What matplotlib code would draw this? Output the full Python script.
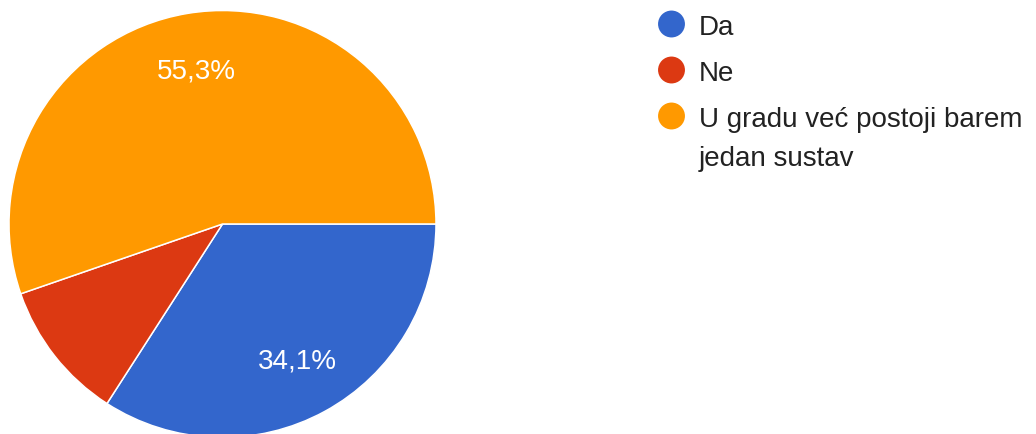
import textwrap
import math
import matplotlib
matplotlib.use("Agg")
import matplotlib.pyplot as plt

categories = ["Da", "Ne", "U gradu već postoji barem jedan sustav"]
values = [34.1, 10.6, 55.3]
colors = ["#3366CC", "#DC3912", "#FF9900"]

plt.rcParams['font.family'] = ['Liberation Sans', 'DejaVu Sans']

W, H = 1036, 435
fig = plt.figure(figsize=(W / 100, H / 100), dpi=100)

# pie geometry in pixels
cx, cy, R = 222.5, 225.0, 213.5
ax = fig.add_axes([0, 0, 1, 1])
ax.pie(values, colors=colors, startangle=0, counterclock=False,
       radius=1, center=(0, 0),
       wedgeprops=dict(edgecolor="white", linewidth=1.1))
ax.set_xlim(-cx / R, (W - cx) / R)
ax.set_ylim(-(H - cy) / R, cy / R)
ax.set_aspect('auto')
ax.axis('off')

# percentage labels (only for large slices)
start = 0.0
for v in values:
    span = v / 100 * 360
    mid = start - span / 2
    if v >= 15:
        rr = 0.73
        x = rr * math.cos(math.radians(mid))
        y = rr * math.sin(math.radians(mid))
        ax.text(x, y, f"{v:.1f}%".replace(".", ","), color="white",
                fontsize=20, ha="center", va="center")
    start -= span

# legend in pixel coordinates
lax = fig.add_axes([0, 0, 1, 1], facecolor="none")
lax.set_xlim(0, W)
lax.set_ylim(H, 0)
lax.axis('off')
entry_y = [25, 71, 117]
for cat, col, yy in zip(categories, colors, entry_y):
    lax.scatter([671.5], [yy], s=375, color=col, edgecolors='none')
    lines = textwrap.wrap(cat, 25)
    for i, ln in enumerate(lines):
        lax.text(699, yy + 10 + i * 39.5, ln, fontsize=20, color="#222222",
                 ha="left", va="baseline")

fig.savefig("out.png", dpi=100)
